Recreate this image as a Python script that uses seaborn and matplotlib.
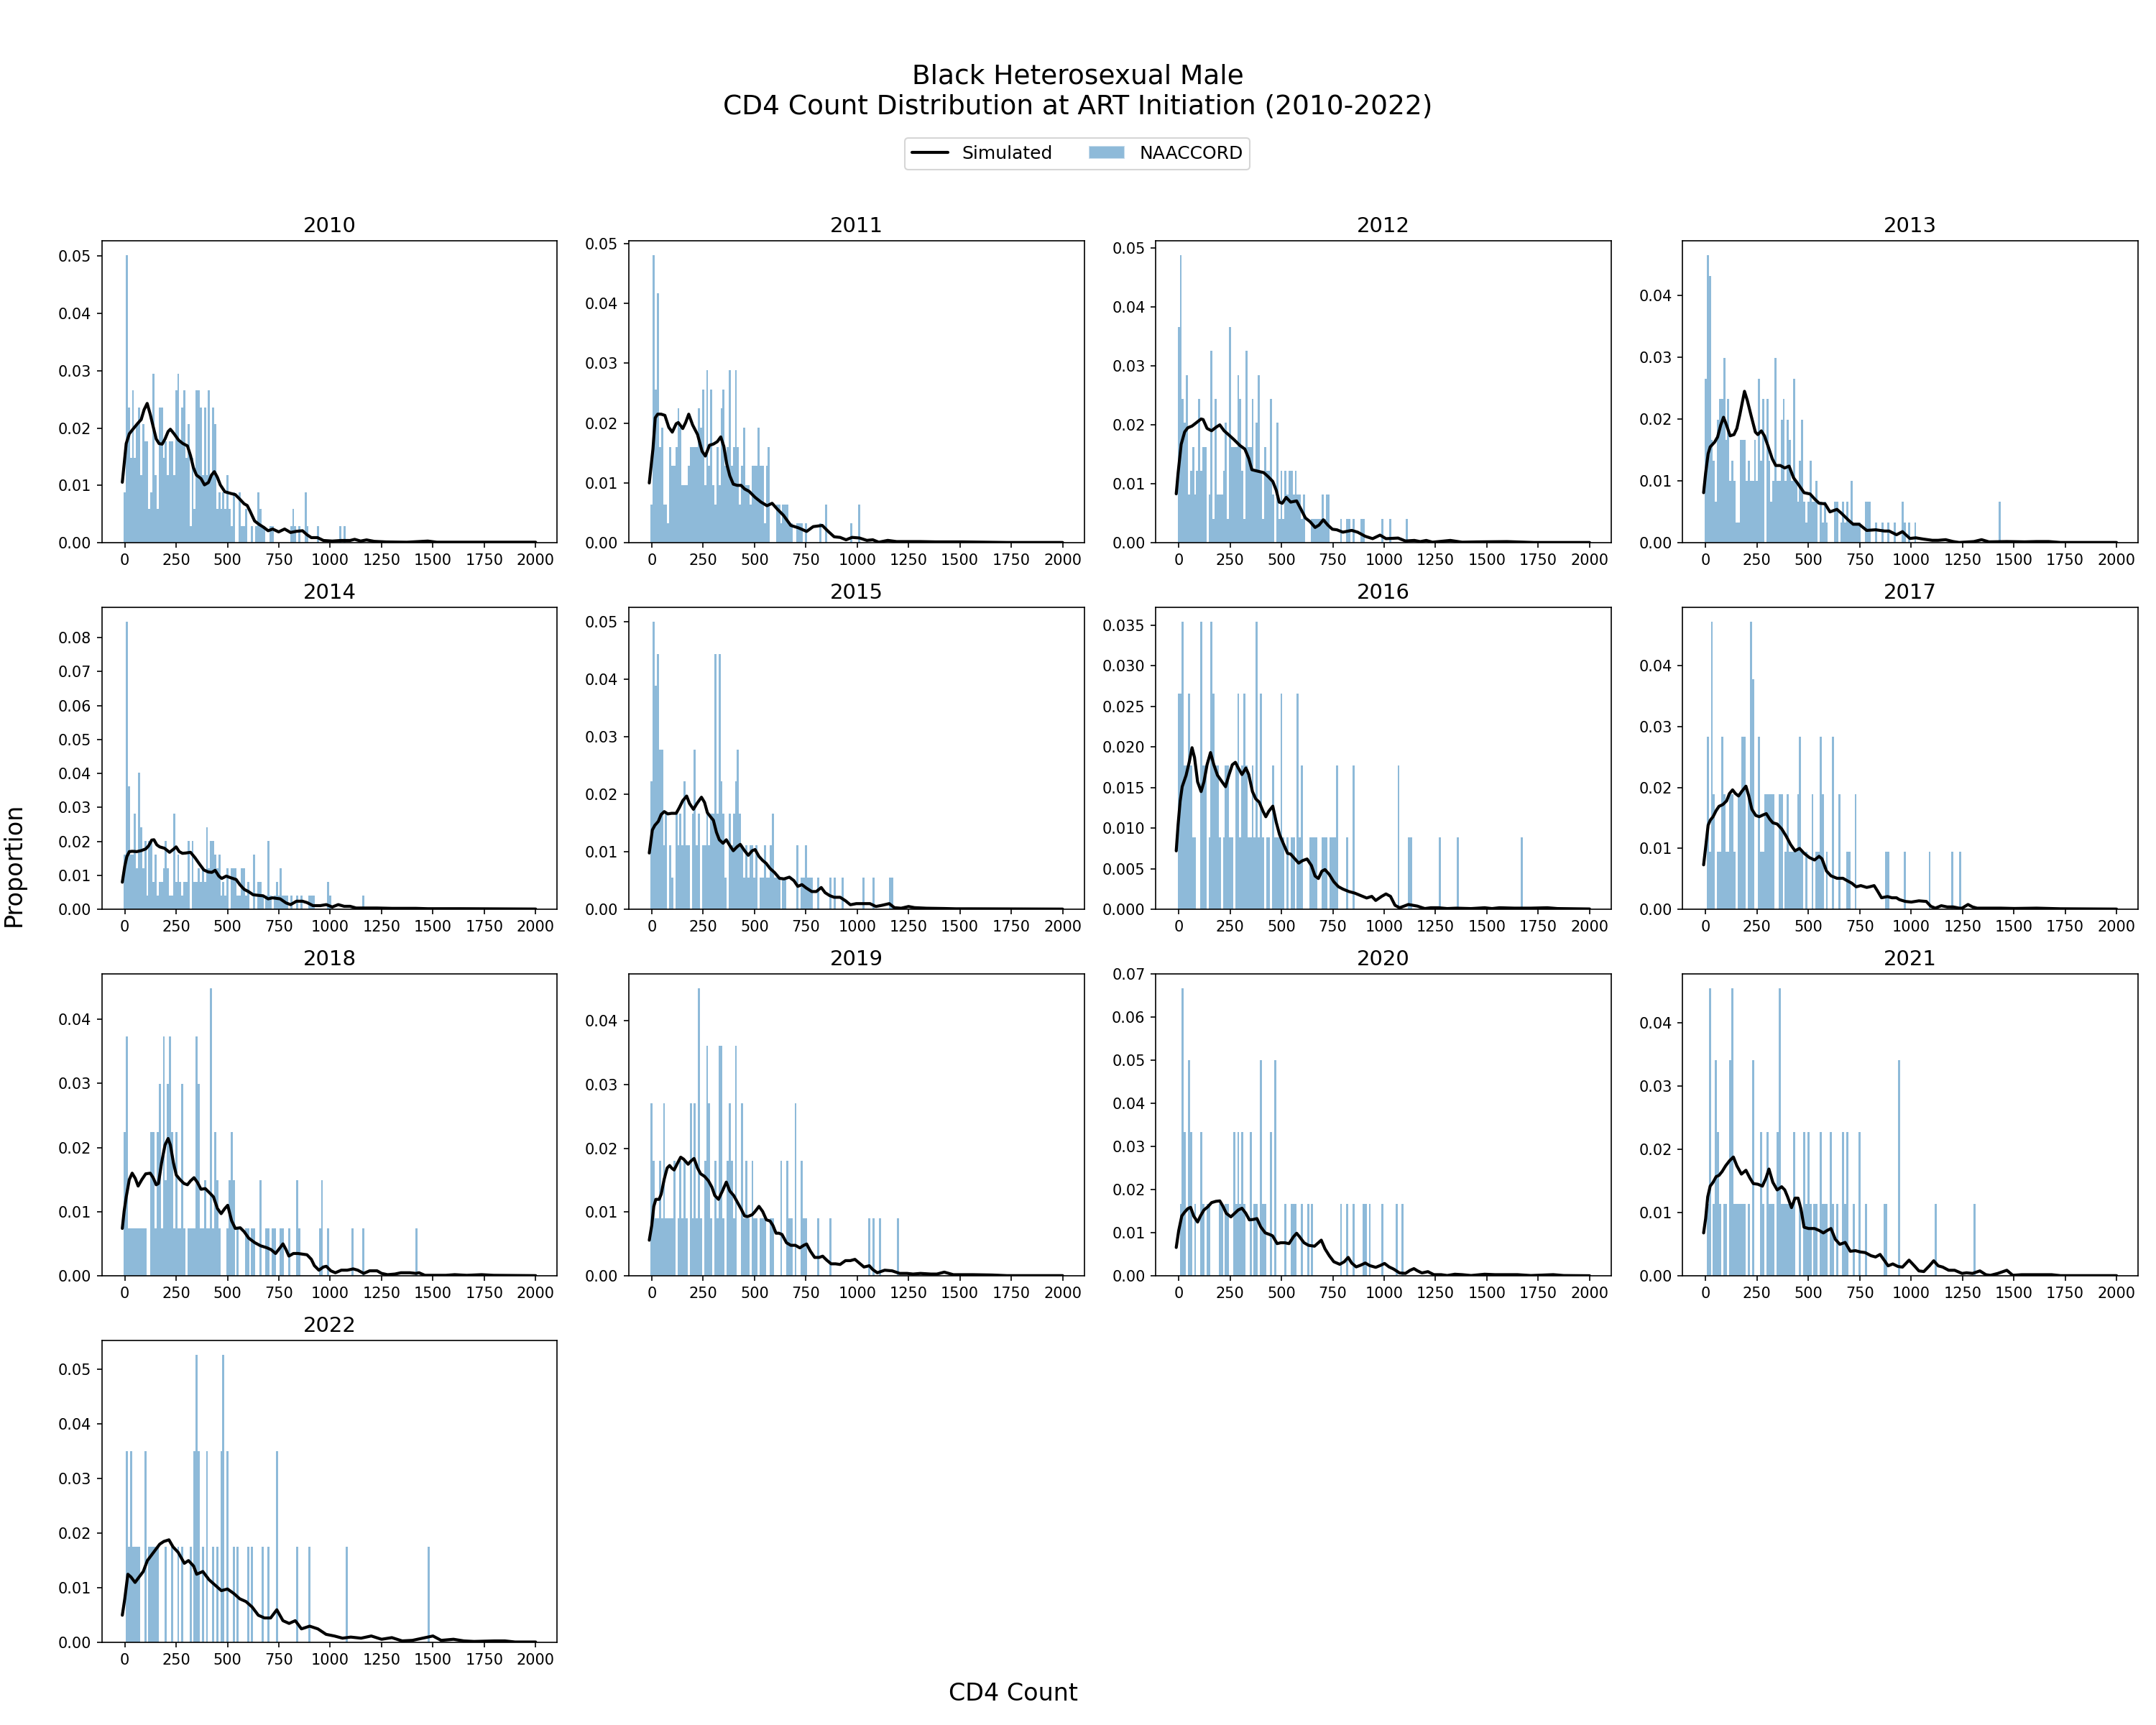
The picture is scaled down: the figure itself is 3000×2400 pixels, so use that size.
import numpy as np
import matplotlib
matplotlib.use("Agg")
import matplotlib.pyplot as plt
from matplotlib.lines import Line2D
from matplotlib.patches import Patch
import seaborn as sns

# ---------------- data ----------------
years = [2010, 2011, 2012, 2013, 2014, 2015, 2016, 2017, 2018, 2019, 2020, 2021, 2022]
bin_width = 10  # CD4 bins (cells/uL), first bin centred on 0

# NAACCORD: counts per 10-unit CD4 bin (bin 0, 10, 20, ...) and patients per year
naaccord_n = [339, 312, 246, 301, 248, 180, 113, 106, 134, 111, 60, 88, 57]

counts_2010 = [3,17,8,5,9,5,7,8,4,7, 6,6,2,3,10,4,2,8,8,5, 6,4,6,6,4,9,10,6,8,9,
               5,7,1,5,2,9,9,8,4,8, 4,9,4,8,7,2,3,2,3,2, 4,2,1,3,0,0,3,1,1,2,
               0,0,1,0,1,3,2,1,1,0, 0,1,1,0,0,0,0,0,0,0, 0,1,2,1,0,1,0,0,3,1,
               0,0,0,0,1,0,0,0,0,0, 0,0,0,0,0,1,0,1]
counts_2011 = [2,15,8,13,5,6,2,2,1,5, 4,4,5,7,6,3,3,3,4,5, 5,5,5,7,6,8,3,9,4,8,
               3,2,5,3,7,8,4,5,9,4, 5,9,5,2,4,6,3,3,2,4, 4,4,6,4,4,1,4,5,0,0,
               0,2,2,1,2,2,2,1,1,0, 0,1,1,1,0,1,0,0,0,0, 0,0,1,0,0,2,0,0,0,0,
               0,0,0,0,0,0,0,1,0,0, 0,2]
counts_2012 = [9,12,6,5,7,2,3,4,2,3, 6,3,4,4,0,2,8,1,6,2, 2,2,3,5,1,9,4,4,4,7,
               6,3,1,8,4,4,6,3,5,7, 3,1,4,3,3,6,2,0,5,1, 3,1,3,2,3,3,2,3,2,2,
               1,2,0,0,0,1,1,1,1,1, 2,1,2,2,0,0,0,0,0,1, 0,0,1,1,0,1,0,0,0,1,
               1,0,0,0,0,0,0,0,0,1, 0,0,0,1,0,0,0,0,0,0, 0,1]
counts_2013 = [8,14,13,5,4,2,6,7,7,9, 5,7,3,4,3,1,1,5,5,5, 3,4,3,3,5,3,8,4,7,0,
               7,4,2,3,9,3,3,6,7,3, 6,5,3,8,3,2,4,6,2,1, 2,4,2,2,3,0,2,1,2,1,
               0,0,0,2,2,0,1,2,1,2, 1,3,1,1,1,1,0,0,2,2, 2,0,0,1,0,0,1,0,0,1,
               0,0,1,0,0,0,2,1,0,1, 0,0,1,0,0,0,0,0,0,0, 0,0,0,0,0,0,0,0,0,0,
               0,0,0,0,0,0,0,0,0,0, 0,0,0,0,0,0,0,0,0,0, 0,0,0,2]
counts_2014 = [4,21,9,4,4,7,3,10,6,3, 5,1,5,5,2,4,1,2,2,3, 5,3,1,1,7,2,4,2,1,2,
               2,5,0,5,2,2,3,2,3,2, 6,3,5,5,4,3,4,1,2,1, 3,0,3,3,3,1,1,3,3,1,
               2,0,0,4,0,2,2,1,0,1, 5,1,0,1,2,1,3,1,1,1, 0,1,0,0,1,0,1,0,0,0,
               1,1,1,0,0,0,0,0,0,2, 1,0,0,0,0,0,0,0,0,0, 0,0,0,0,0,0,1]
counts_2015 = [4,9,7,8,5,5,2,3,0,2, 1,0,3,2,3,2,4,2,2,0, 3,5,2,3,0,2,2,3,2,3,
               3,8,3,8,4,3,1,0,3,2, 3,4,5,3,2,1,2,1,2,2, 1,2,0,1,1,2,1,1,2,3,
               1,1,1,0,1,1,0,0,0,0, 0,2,0,1,1,2,1,1,1,0, 0,1,0,0,0,0,0,1,0,1,
               0,0,0,1,0,0,0,0,0,0, 0,0,0,1,0,0,0,0,1,0, 0,0,0,0,0,0,1,1]
counts_2016 = [3,3,4,2,2,3,2,1,1,0, 0,4,2,2,0,1,4,3,2,2, 1,0,1,2,2,1,1,0,2,3,
               1,2,3,2,1,1,2,1,4,1, 3,1,0,1,1,0,2,1,1,1, 3,1,0,1,0,1,1,0,3,1,
               2,0,0,0,1,1,1,1,0,0, 1,1,1,0,1,1,1,2,0,0, 0,0,1,0,0,2,0,0,0,0,
               0,0,0,0,0,0,0,0,0,0, 0,0,0,0,0,0,0,2,0,0, 0,0,1,1,0,0,0,0,0,0,
               0,0,0,0,0,0,0,1,0,0, 0,0,0,0,0,0,1,0,0,0, 0,0,0,0,0,0,0,0,0,0,
               0,0,0,0,0,0,0,0,0,0, 0,0,0,0,0,0,0,1]
counts_2017 = [0,3,1,5,2,0,1,1,3,2, 1,1,2,2,1,0,2,2,3,3, 0,2,5,4,0,0,3,1,1,2,
               2,2,2,2,0,0,2,2,0,1, 2,1,1,1,1,2,3,1,0,1, 0,0,2,0,1,1,3,2,0,1,
               0,0,3,0,0,2,0,0,0,1, 1,0,0,2,0,0,0,0,0,0, 0,0,0,0,0,0,0,0,1,1,
               0,0,0,0,0,0,0,1,0,0, 0,0,0,0,0,0,0,0,0,1, 0,0,0,0,0,0,0,0,0,0,
               1,0,0,0,1]
counts_2018 = [3,5,1,1,1,1,1,1,1,1, 1,0,0,3,3,1,3,4,1,5, 2,4,5,3,1,3,1,1,4,1,
               0,1,1,1,1,5,4,1,1,2, 1,1,6,1,3,2,1,0,0,0, 1,2,3,2,0,1,0,0,0,1,
               1,0,1,1,0,0,2,0,0,1, 1,0,1,1,0,0,1,1,0,0, 1,0,0,0,2,1,0,0,0,0,
               0,0,0,0,0,1,2,0,0,1, 0,0,0,0,0,0,0,0,0,0, 0,1,0,0,0,0,1,0,0,0,
               0,0,0,0,0,0,0,0,0,0, 0,0,0,0,0,0,0,0,0,0, 0,0,1]
counts_2019 = [3,2,1,1,2,1,3,1,1,1, 1,2,0,1,2,1,2,1,0,3, 1,3,1,5,1,0,2,4,3,1,
               0,2,1,4,4,1,0,2,3,2, 1,4,0,0,3,1,2,1,0,2, 1,1,0,1,1,1,0,0,1,1,
               0,0,0,2,0,0,2,1,1,0, 3,0,0,2,1,1,0,0,0,0, 0,1,0,0,0,0,0,1,0,0,
               0,0,0,0,0,0,0,0,0,0, 0,0,0,0,0,0,1,0,1,0, 0,1,0,0,0,0,0,0,0,0,
               1]
counts_2020 = [0,1,4,2,0,3,2,0,1,0, 0,2,1,0,1,1,0,0,0,0, 1,1,0,1,1,0,0,2,1,2,
               1,2,1,0,0,2,0,1,1,0, 3,1,1,0,0,2,0,3,0,0, 0,0,1,0,0,1,1,1,0,0,
               1,0,0,1,0,1,0,0,0,0, 0,0,0,0,0,0,0,0,0,1, 0,0,1,0,0,1,0,0,0,0,
               1,1,0,1,0,0,0,0,0,1, 0,0,0,0,0,0,1,0,0,1]
counts_2021 = [0,1,4,0,1,3,2,1,0,1, 1,0,3,4,1,1,1,1,1,1, 0,1,0,3,0,0,0,2,1,0,
               2,1,1,1,0,2,4,1,1,1, 1,1,1,2,0,0,1,0,2,1, 2,1,0,1,1,0,2,1,1,1,
               0,2,1,0,1,0,0,2,1,2, 0,0,1,0,0,2,0,0,1,0, 0,0,0,0,0,0,0,1,1,0,
               0,0,0,0,3,0,0,0,0,0, 0,0,0,0,0,0,0,0,0,0, 0,0,1,0,0,0,0,0,0,0,
               0,0,0,0,0,0,0,0,0,0, 0,1]
counts_2022 = [0,2,1,2,1,1,1,1,0,0, 2,0,1,1,1,1,1,0,0,0, 1,0,0,1,0,0,1,0,1,0,
               0,0,1,0,2,3,2,0,1,0, 2,0,0,1,0,1,0,2,3,0, 2,0,0,1,0,1,0,0,0,0,
               1,0,1,0,0,0,0,1,0,0, 1,0,0,0,2,0,0,0,0,0, 0,0,0,0,1,0,0,0,0,0,
               1,0,0,0,0,0,0,0,0,0, 0,0,0,0,0,0,0,0,1,0, 0,0,0,0,0,0,0,0,0,0,
               0,0,0,0,0,0,0,0,0,0, 0,0,0,0,0,0,0,0,0,0, 0,0,0,0,0,0,0,0,1]

# Simulated: (CD4 count, proportion) points of the smooth curve
sim_2010 = [(-12,.01055),(7,.0173),(22,.019),(44,.020),(65,.0209),(80,.0215),(94,.0232),(109,.0243),
            (124,.0224),(138,.0203),(153,.0181),(167,.0173),(182,.0172),(196,.0181),(211,.0194),(222,.0198),
            (240,.019),(262,.0179),(283,.0173),(305,.0169),(320,.0152),(334,.0131),(349,.0118),(371,.0112),
            (388,.0101),(407,.0105),(422,.0118),(436,.0124),(451,.0114),(465,.0101),(487,.0089),(516,.0086),
            (538,.0084),(560,.0076),(581,.0068),(596,.0065),(610,.0055),(632,.0038),(654,.0032),(676,.0027),
            (698,.0021),(720,.0024),(749,.0019),(778,.0024),(807,.0018),(836,.002),(865,.0021),(887,.0014),
            (908,.0009),(938,.0009),(967,.0004),(1010,.0003),(1054,.0004),(1097,.0004),(1119,.0006),(1148,.0003),
            (1177,.0005),(1214,.00025),(1272,.00015),(1373,.0001),(1475,.0003),(1519,.0001),(1737,.0001),(2000,.0001)]
sim_2011 = [(-12,.0100),(6,.0157),(17,.0209),(29,.0215),(46,.0215),(64,.0213),(83,.0193),(100,.0185),
            (119,.0199),(129,.0201),(151,.0191),(165,.0201),(180,.0215),(199,.0197),(223,.0181),(245,.0153),
            (261,.0145),(281,.0163),(300,.0165),(319,.0169),(336,.0177),(351,.0161),(365,.0132),(380,.0112),
            (397,.0098),(416,.0096),(435,.0096),(452,.009),(474,.0086),(503,.0076),(532,.0068),(561,.0062),
            (586,.0066),(612,.0056),(641,.0046),(677,.0029),(714,.0025),(754,.0019),(786,.0027),(830,.0029),
            (859,.0019),(888,.001),(917,.0009),(946,.0005),(975,.0009),(1011,.0008),(1047,.0004),(1076,.0005),
            (1105,.0001),(1149,.0004),(1192,.0002),(1308,.0002),(1381,.00015),(1511,.00015),(1729,.00005),(2000,.00005)]
sim_2012 = [(-12,.0083),(-3,.0118),(12,.0167),(29,.0188),(44,.0195),(65,.0198),(87,.0204),(109,.021),
            (119,.0209),(138,.0194),(160,.019),(182,.0196),(200,.02),(221,.019),(247,.0182),(269,.0175),
            (298,.0165),(322,.0159),(341,.0143),(356,.0124),(378,.0122),(414,.0119),(436,.0112),(458,.0104),
            (475,.0089),(489,.0069),(504,.0067),(523,.0077),(545,.0069),(574,.0071),(595,.0057),(617,.0042),
            (639,.0036),(664,.0026),(683,.003),(704,.0039),(726,.003),(748,.0023),(770,.0022),(799,.0018),
            (842,.0021),(871,.0018),(908,.0011),(944,.0007),(980,.0013),(1009,.0007),(1068,.0008),(1104,.0003),
            (1147,.0004),(1176,.0002),(1205,.0004),(1235,.0001),(1322,.0004),(1380,.0001),(1452,.00015),
            (1598,.0002),(1728,.00005),(2000,.00005)]
sim_2013 = [(-10,.0081),(0,.0113),(12,.0144),(22,.0155),(44,.0163),(58,.0171),(73,.019),(87,.0203),
            (102,.019),(119,.0173),(138,.0175),(152,.0185),(167,.0208),(189,.0245),(203,.023),(221,.0206),
            (242,.0179),(254,.0175),(271,.0181),(286,.0173),(305,.0155),(324,.0136),(341,.0125),(363,.0125),
            (385,.0121),(406,.0124),(428,.0105),(450,.0095),(479,.0081),(508,.0079),(533,.007),(552,.0064),
            (581,.0063),(605,.005),(639,.0054),(660,.0048),(697,.0036),(718,.003),(747,.003),(784,.002),
            (827,.0021),(871,.0019),(893,.0019),(929,.0013),(958,.0018),(994,.0007),(1023,.0008),(1059,.0006),
            (1103,.0004),(1132,.0004),(1168,.0005),(1205,.0002),(1234,.00005),(1306,.0002),(1343,.0005),
            (1379,.00015),(1466,.0002),(1553,.00015),(1611,.0002),(1669,.0002),(1727,.00005),(2000,.00005)]
sim_2014 = [(-12,.008),(0,.0127),(10,.0155),(22,.017),(36,.0171),(58,.017),(80,.0173),(102,.0178),
            (116,.0187),(131,.0204),(142,.0205),(156,.019),(170,.0184),(193,.018),(218,.0168),(237,.0177),
            (250,.0184),(265,.017),(281,.0165),(298,.0166),(320,.0168),(342,.0152),(363,.0134),(385,.0116),
            (407,.011),(424,.0109),(440,.0115),(458,.0098),(472,.0091),(494,.0098),(516,.0093),(542,.0088),
            (560,.0073),(581,.0059),(603,.0052),(625,.0043),(654,.0041),(673,.004),(698,.0031),(719,.0034),
            (756,.0031),(785,.0019),(807,.0014),(836,.0024),(865,.0024),(887,.002),(916,.0011),(952,.0011),
            (981,.0014),(1010,.0007),(1039,.0014),(1068,.0009),(1097,.0009),(1126,.0004),(1185,.0004),
            (1228,.0004),(1301,.0003),(1417,.0003),(1475,.0002),(1635,.0002),(2000,.0001)]
sim_2015 = [(-12,.0098),(3,.0138),(15,.0146),(32,.0153),(46,.0165),(61,.017),(78,.0166),(97,.0167),
            (119,.0167),(133,.0176),(151,.0189),(170,.0197),(184,.0184),(203,.0174),(220,.0184),(242,.0195),
            (257,.0186),(271,.0168),(286,.0161),(300,.0155),(315,.0134),(329,.0121),(347,.0115),(363,.0121),
            (380,.0111),(397,.0102),(416,.0109),(431,.0113),(452,.0102),(470,.0094),(489,.0102),(503,.0104),
            (522,.0092),(540,.0085),(557,.008),(576,.0071),(598,.0064),(622,.0054),(644,.0053),(670,.0056),
            (692,.005),(711,.004),(731,.0043),(753,.0037),(779,.0031),(801,.0031),(825,.0038),(844,.0029),
            (866,.0024),(888,.0021),(917,.0021),(943,.0015),(967,.0008),(996,.001),(1033,.001),(1062,.001),
            (1091,.0005),(1120,.0007),(1156,.001),(1181,.0003),(1214,.0002),(1250,.0005),(1279,.0003),
            (1337,.0002),(1424,.00015),(1482,.0001),(1555,.0001),(2000,.00005)]
sim_2016 = [(-12,.0072),(-3,.0104),(7,.0133),(17,.0151),(36,.0165),(51,.0181),(65,.0199),(77,.0187),
            (92,.0157),(109,.0145),(123,.0157),(138,.0178),(155,.0193),(171,.0178),(189,.0165),(211,.0157),
            (228,.0151),(244,.0165),(261,.0178),(276,.0181),(290,.0174),(308,.0166),(327,.0174),(341,.0166),
            (359,.0145),(375,.0136),(392,.0132),(410,.0121),(424,.0114),(439,.0121),(458,.0127),(475,.0107),
            (491,.0092),(511,.008),(530,.0069),(545,.0068),(566,.0062),(584,.0057),(603,.006),(625,.0062),
            (646,.0054),(664,.0041),(680,.0038),(697,.0047),(712,.0049),(733,.0043),(755,.0034),(777,.0028),
            (799,.0025),(828,.0022),(857,.002),(886,.0017),(915,.0014),(940,.0016),(959,.0011),(988,.0016),
            (1009,.0019),(1031,.0016),(1053,.0005),(1075,.0002),(1097,.0004),(1118,.0006),(1140,.0005),
            (1162,.0004),(1198,.0001),(1227,.0002),(1264,.0002),(1307,.0001),(1351,.00015),(1423,.0001),
            (1489,.0002),(1525,.0001),(1561,.0002),(1634,.00015),(1714,.00015),(1794,.0002),(1844,.0001),(2000,.00005)]
sim_2017 = [(-10,.0073),(0,.0102),(12,.0138),(22,.0146),(36,.0152),(51,.0162),(65,.0169),(84,.0172),
            (102,.0178),(116,.019),(131,.0196),(145,.019),(160,.0186),(177,.0194),(196,.0202),(210,.0186),
            (225,.0164),(244,.0154),(261,.0152),(280,.0155),(295,.0157),(312,.0148),(327,.0142),(348,.014),
            (370,.0132),(392,.012),(414,.0106),(435,.0096),(457,.01),(479,.0092),(505,.0085),(530,.0081),
            (552,.0087),(566,.0083),(588,.0063),(610,.0055),(639,.0051),(668,.0051),(689,.0047),(711,.0043),
            (733,.0037),(755,.0039),(784,.0036),(798,.0037),(820,.0039),(835,.0031),(856,.0019),(885,.0021),
            (907,.0019),(929,.0019),(943,.0016),(972,.0013),(1001,.0012),(1038,.0014),(1074,.0013),(1096,.0005),
            (1118,.0002),(1147,.0006),(1176,.0004),(1205,.0004),(1234,.0002),(1248,.0002),(1277,.0008),
            (1299,.0004),(1321,.0002),(1437,.0002),(1502,.00015),(1611,.0002),(1727,.0001),(2000,.00005)]
sim_2018 = [(-12,.0074),(-3,.0101),(7,.0123),(22,.015),(36,.016),(51,.0152),(65,.014),(83,.015),
            (102,.0159),(124,.016),(138,.0153),(153,.0142),(164,.0144),(179,.0176),(196,.0204),(211,.0214),
            (222,.0204),(237,.0176),(251,.0157),(269,.015),(288,.0144),(305,.0142),(320,.0148),(337,.0153),
            (353,.0146),(371,.0135),(392,.0136),(414,.0129),(432,.0123),(451,.0105),(469,.0097),(487,.0105),
            (501,.011),(520,.0086),(538,.0074),(562,.0075),(581,.0069),(603,.0059),(632,.0052),(661,.0047),
            (691,.0044),(712,.0041),(734,.0035),(756,.0044),(770,.005),(785,.0041),(799,.0031),(821,.0035),
            (843,.0035),(865,.0034),(887,.0033),(908,.0026),(923,.0016),(945,.0009),(967,.0014),(981,.0015),
            (1003,.0008),(1025,.0005),(1054,.0009),(1083,.0009),(1112,.0011),(1134,.0009),(1163,.0004),
            (1192,.0008),(1228,.0008),(1250,.0004),(1279,.0002),(1315,.0003),(1344,.0005),(1388,.0005),
            (1417,.0004),(1432,.0005),(1461,.0001),(1563,.0001),(1606,.0002),(1664,.0001),(1737,.0002),
            (1795,.0001),(2000,.00005)]
sim_2019 = [(-12,.0056),(0,.0079),(10,.0109),(20,.012),(36,.012),(46,.0128),(61,.0152),(75,.0169),
            (87,.0173),(97,.0169),(109,.0166),(126,.0177),(141,.0186),(155,.0183),(177,.0175),(191,.018),
            (206,.0184),(223,.0169),(238,.016),(257,.0156),(276,.0149),(293,.0139),(307,.0126),(325,.012),
            (344,.0133),(363,.0147),(380,.0133),(399,.0126),(416,.0116),(435,.0105),(452,.0094),(467,.0093),
            (489,.0096),(503,.0101),(522,.0109),(540,.0101),(558,.0088),(576,.0086),(590,.0079),(605,.0067),
            (619,.0067),(634,.0065),(656,.0052),(677,.0048),(699,.0048),(721,.0044),(740,.0048),(754,.005),
            (772,.0039),(793,.0029),(815,.0029),(832,.0031),(851,.0025),(873,.0019),(895,.0019),(917,.0018),
            (943,.0024),(967,.0024),(989,.0026),(1011,.002),(1033,.0014),(1059,.0016),(1076,.001),(1098,.0005),
            (1134,.0009),(1170,.0008),(1207,.0004),(1243,.0004),(1272,.0003),(1308,.0004),(1359,.0003),
            (1388,.0003),(1424,.0006),(1468,.0002),(1511,.0002),(1562,.0002),(1656,.00015),(1729,.00005),(2000,.00005)]
sim_2020 = [(-12,.0066),(0,.0105),(15,.0139),(29,.0148),(44,.0156),(58,.0159),(73,.0139),(92,.0125),
            (106,.0139),(123,.0153),(141,.016),(160,.017),(181,.0173),(200,.0174),(215,.0162),(232,.0145),
            (254,.0137),(272,.0145),(290,.0153),(308,.0157),(327,.0145),(344,.013),(363,.0131),(381,.0133),
            (399,.0114),(421,.01),(443,.0096),(457,.0093),(479,.0075),(497,.0077),(516,.0077),(537,.0075),
            (559,.0091),(574,.0099),(588,.0091),(610,.0077),(632,.0071),(661,.0069),(680,.0077),(694,.0083),
            (712,.0063),(733,.0047),(755,.0033),(784,.0027),(806,.0033),(825,.0043),(842,.003),(864,.0021),
            (886,.0025),(908,.003),(930,.0024),(959,.002),(980,.0024),(1002,.0029),(1024,.0021),(1046,.0016),
            (1075,.0007),(1104,.0006),(1126,.0013),(1145,.0017),(1162,.0012),(1184,.0007),(1213,.001),
            (1242,.0003),(1278,.0003),(1307,.0001),(1344,.0004),(1380,.0003),(1423,.0001),(1489,.0004),
            (1540,.0003),(1583,.0003),(1649,.0003),(1714,.0001),(1823,.0003),(1874,.0001),(2000,.00005)]
sim_2021 = [(-10,.0068),(0,.0091),(10,.0125),(22,.0142),(36,.0148),(51,.0157),(65,.0159),(80,.0165),
            (97,.0174),(116,.0182),(135,.0188),(152,.0174),(174,.0161),(196,.0167),(215,.0155),(232,.0146),
            (254,.0145),(276,.0142),(293,.0154),(308,.0169),(327,.0148),(348,.0136),(370,.0141),(385,.0136),
            (399,.0125),(418,.0108),(435,.0123),(450,.0123),(464,.0106),(479,.0077),(501,.0075),(530,.0075),
            (552,.0072),(573,.0068),(592,.0072),(610,.0075),(631,.0058),(653,.005),(679,.0053),(704,.0039),
            (729,.004),(752,.0038),(776,.0037),(805,.0032),(827,.003),(849,.0034),(871,.0024),(888,.0016),
            (911,.0019),(936,.0015),(958,.0014),(990,.0025),(1016,.0016),(1038,.0008),(1062,.0007),(1089,.0016),
            (1110,.0024),(1132,.0016),(1154,.0014),(1183,.0009),(1212,.0009),(1248,.0004),(1270,.0005),
            (1299,.0004),(1335,.0008),(1364,.0002),(1386,.0001),(1422,.0004),(1466,.0009),(1495,.0001),
            (1538,.0002),(1640,.0002),(1684,.0002),(1727,.00005),(2000,.00005)]
sim_2022 = [(-12,.005),(0,.008),(15,.0125),(30,.012),(50,.011),(70,.012),(90,.013),(110,.015),
            (140,.0165),(170,.018),(190,.0185),(215,.0188),(235,.0175),(260,.0165),(290,.0145),(310,.015),
            (335,.014),(350,.0125),(380,.013),(410,.0115),(440,.0105),(470,.0095),(500,.0098),(530,.009),
            (560,.008),(590,.0075),(620,.0065),(650,.005),(680,.0045),(710,.0045),(740,.006),(770,.004),
            (800,.0035),(830,.004),(860,.0025),(900,.003),(940,.0025),(980,.0015),(1020,.0012),(1060,.0008),
            (1100,.001),(1150,.0008),(1200,.0012),(1250,.0006),(1300,.0009),(1350,.0003),(1400,.0004),
            (1450,.0008),(1500,.0012),(1540,.0004),(1600,.0006),(1650,.0003),(1700,.0002),(1800,.0003),
            (1850,.0003),(1900,.0001),(2000,.0001)]

naaccord_counts = [counts_2010, counts_2011, counts_2012, counts_2013, counts_2014, counts_2015,
                   counts_2016, counts_2017, counts_2018, counts_2019, counts_2020, counts_2021, counts_2022]
simulated = [sim_2010, sim_2011, sim_2012, sim_2013, sim_2014, sim_2015, sim_2016,
             sim_2017, sim_2018, sim_2019, sim_2020, sim_2021, sim_2022]

title = "Black Heterosexual Male\nCD4 Count Distribution at ART Initiation (2010-2022)"
bar_color = "#1f77b4"

# ---------------- plot ----------------
sns.set_style("ticks")
plt.rcParams["font.family"] = ["DejaVu Sans"]
plt.rcParams.update({"text.color": "black", "axes.edgecolor": "black",
                     "axes.labelcolor": "black", "xtick.color": "black",
                     "ytick.color": "black"})

fig, axes = plt.subplots(4, 4, figsize=(20, 16), dpi=150)
fig.subplots_adjust(left=0.0472, right=0.9917, top=0.8604, bottom=0.0478,
                    wspace=0.157, hspace=0.214)

for i, year in enumerate(years):
    ax = axes.flat[i]
    counts = np.asarray(naaccord_counts[i], dtype=float)
    cd4 = np.arange(len(counts)) * bin_width
    sns.histplot(x=cd4, weights=counts / naaccord_n[i], binwidth=bin_width,
                 binrange=(-bin_width / 2, 2000 + bin_width / 2),
                 color=bar_color, alpha=0.5, linewidth=0, ax=ax)
    sx, sy = zip(*simulated[i])
    sns.lineplot(x=list(sx), y=list(sy), color="black", linewidth=2, ax=ax)
    ax.set_title(str(year), fontsize=14)
    ax.set_xlabel("")
    ax.set_ylabel("")
    ax.set_xticks(range(0, 2001, 250))
    ax.set_xlim(-112, 2105)
    ax.tick_params(labelsize=10)

for j in range(len(years), 16):
    axes.flat[j].remove()

fig.text(0.5, 0.947, title, ha="center", va="center", fontsize=18, linespacing=1.2)
handles = [Line2D([0], [0], color="black", linewidth=2, label="Simulated"),
           Patch(facecolor=bar_color, alpha=0.5, label="NAACCORD")]
fig.legend(handles=handles, loc="center", bbox_to_anchor=(0.4997, 0.911), ncol=2,
           fontsize=12, frameon=True)
fig.text(0.47, 0.018, "CD4 Count", ha="center", va="center", fontsize=16)
fig.text(0.0065, 0.499, "Proportion", ha="center", va="center", rotation=90, fontsize=16)

fig.savefig("out.png", dpi=150)
